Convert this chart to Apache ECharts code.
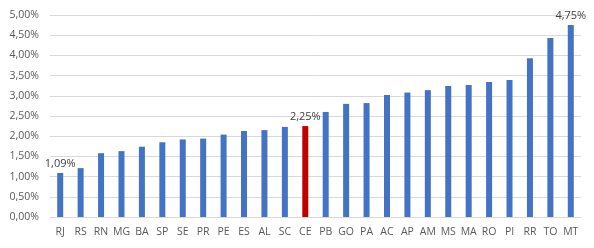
<!DOCTYPE html>
<html>
<head>
<meta charset="utf-8">
<script src="https://cdn.jsdelivr.net/npm/echarts@6/dist/echarts.min.js"></script>
<style>
    html, body { margin: 0; padding: 0; background: #fff; }
    #chart { width: 594px; height: 248px; }
</style>
</head>
<body>
<div id="chart"></div>
<script>
    // estados e taxas (%)
    var estados = ['RJ', 'RS', 'RN', 'MG', 'BA', 'SP', 'SE', 'PR', 'PE', 'ES', 'AL', 'SC', 'CE',
        'PB', 'GO', 'PA', 'AC', 'AP', 'AM', 'MS', 'MA', 'RO', 'PI', 'RR', 'TO', 'MT'];
    var taxas = [1.09, 1.21, 1.58, 1.63, 1.74, 1.85, 1.92, 1.94, 2.04, 2.13, 2.15, 2.23, 2.25,
        2.60, 2.80, 2.82, 3.02, 3.08, 3.14, 3.24, 3.27, 3.34, 3.39, 3.93, 4.43, 4.75];
    var rotulados = ['RJ', 'CE', 'MT'];
    var destaque = 'CE';

    function fmt(v) {
        return v.toFixed(2).replace('.', ',') + '%';
    }

    var dados = taxas.map(function (v, i) {
        var item = { value: v };
        if (estados[i] === destaque) {
            item.itemStyle = { color: '#C00000' };
        }
        if (rotulados.indexOf(estados[i]) >= 0) {
            item.label = { show: true };
        }
        return item;
    });

    var chart = echarts.init(document.getElementById('chart'));
    chart.setOption({
        animation: false,
        grid: {
            left: 50,
            right: 13,
            top: 15,
            bottom: 31
        },
        xAxis: {
            type: 'category',
            data: estados,
            axisLine: { lineStyle: { color: '#d9d9d9' } },
            axisTick: { show: false },
            axisLabel: {
                color: '#595959',
                fontFamily: 'Open Sans',
                fontSize: 10.5,
                interval: 0,
                margin: 10
            }
        },
        yAxis: {
            type: 'value',
            min: 0,
            max: 5,
            interval: 0.5,
            axisLine: { show: false },
            axisTick: { show: false },
            splitLine: { lineStyle: { color: '#d9d9d9' } },
            axisLabel: {
                color: '#595959',
                fontFamily: 'Open Sans',
                fontSize: 10.5,
                margin: 11,
                formatter: fmt
            }
        },
        series: [{
            type: 'bar',
            data: dados,
            barWidth: 6,
            itemStyle: { color: '#4472C4' },
            label: {
                show: false,
                position: 'top',
                distance: 4,
                color: '#404040',
                fontFamily: 'Open Sans',
                fontSize: 11,
                formatter: function (p) { return fmt(p.value); }
            }
        }]
    });
</script>
</body>
</html>
